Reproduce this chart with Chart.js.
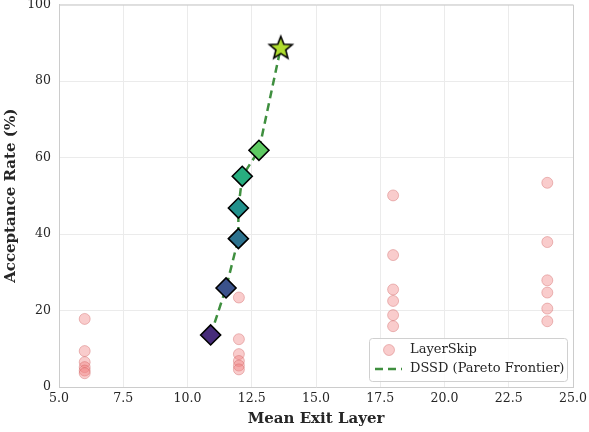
<!DOCTYPE html>
<html>
<head>
<meta charset="utf-8">
<script src="https://cdn.jsdelivr.net/npm/chart.js@4.4.1/dist/chart.umd.min.js"></script>
<style>
html,body{margin:0;padding:0;background:#fff;}
#wrap{width:589px;height:432px;position:relative;overflow:hidden;}
#c{position:absolute;left:0;top:-7px;}
</style>
</head>
<body>
<div id="wrap"><canvas id="c" width="589" height="439"></canvas></div>
<script>
// ---- data ----
const layerSkipX = [6,6,6,6,6,6, 12,12,12,12,12,12, 18,18,18,18,18,18, 24,24,24,24,24,24];
const layerSkipY = [17.8,9.4,6.5,5.2,4.3,3.6, 23.4,12.5,8.6,6.8,5.6,4.6, 50.1,34.5,25.5,22.5,18.8,15.9, 53.4,37.9,27.9,24.7,20.5,17.2];
const dssdX = [10.9,11.5,11.98,11.98,12.13,12.78,13.63];
const dssdY = [13.6,25.9,38.8,46.8,55.1,61.9,88.8];
const dssdColors = ['#472c7a','#3b528b','#2c728e','#21918c','#28ae80','#5ec962','#b0dd2f'];
const xTicks = [5.0,7.5,10.0,12.5,15.0,17.5,20.0,22.5,25.0];
const yTicks = [0,20,40,60,80,100];
const seriesNames = ['LayerSkip','DSSD (Pareto Frontier)'];

const FONT = "'DejaVu Serif', serif";
const OFF = 7; // canvas vertical offset inside the page

// star marker
function makeStar(color){
  const s = 30, c = document.createElement('canvas');
  c.width = s; c.height = s;
  const g = c.getContext('2d');
  const cx = s/2, cy = s/2 + 1, R = 12, r = 5.2;
  g.beginPath();
  for (let i = 0; i < 10; i++){
    const ang = -Math.PI/2 + i*Math.PI/5;
    const rad = i % 2 === 0 ? R : r;
    const px = cx + rad*Math.cos(ang), py = cy + rad*Math.sin(ang);
    if (i === 0) g.moveTo(px, py); else g.lineTo(px, py);
  }
  g.closePath();
  g.fillStyle = color; g.fill();
  g.lineWidth = 1.6; g.strokeStyle = '#000'; g.lineJoin = 'miter'; g.stroke();
  return c;
}
const star = makeStar(dssdColors[dssdColors.length-1]);

const dssdStyles = dssdX.map((_, i) => i === dssdX.length-1 ? star : 'rectRot');

const legendPlugin = {
  id: 'customLegend',
  afterDraw(chart){
    const ctx = chart.ctx;
    const x0 = 369, y0 = 338 + OFF, w = 198, h = 43;
    ctx.save();
    ctx.fillStyle = 'rgba(255,255,255,0.85)';
    ctx.strokeStyle = '#d0d0d0';
    ctx.lineWidth = 1;
    ctx.beginPath();
    ctx.roundRect(x0+0.5, y0+0.5, w, h, 3);
    ctx.fill(); ctx.stroke();
    // circle
    ctx.beginPath();
    ctx.arc(389, 350 + OFF, 5.5, 0, Math.PI*2);
    ctx.fillStyle = 'rgba(240,128,128,0.4)';
    ctx.fill();
    ctx.strokeStyle = 'rgba(200,80,80,0.35)';
    ctx.stroke();
    // dashed line
    ctx.beginPath();
    ctx.setLineDash([8,5]);
    ctx.moveTo(375, 369 + OFF); ctx.lineTo(402, 369 + OFF);
    ctx.strokeStyle = '#3f8f3f'; ctx.lineWidth = 2.5; ctx.stroke();
    ctx.setLineDash([]);
    ctx.fillStyle = '#262626';
    ctx.font = "13px " + FONT;
    ctx.textBaseline = 'middle';
    ctx.fillText(seriesNames[0], 410, 350 + OFF);
    ctx.fillText(seriesNames[1], 410, 369 + OFF);
    ctx.restore();
  }
};

new Chart(document.getElementById('c'), {
  type: 'scatter',
  data: {
    datasets: [
      {
        label: seriesNames[1],
        data: dssdX.map((x, i) => ({x, y: dssdY[i]})),
        showLine: true,
        borderColor: '#3f8f3f',
        borderWidth: 2.5,
        borderDash: [8,5],
        pointStyle: dssdStyles,
        pointRadius: 10,
        pointHoverRadius: 10,
        pointBackgroundColor: dssdColors,
        pointBorderColor: '#000',
        pointBorderWidth: 1.6,
        order: 0
      },
      {
        label: seriesNames[0],
        data: layerSkipX.map((x, i) => ({x, y: layerSkipY[i]})),
        pointStyle: 'circle',
        pointRadius: 5.5,
        pointBackgroundColor: 'rgba(240,128,128,0.4)',
        pointBorderColor: 'rgba(200,80,80,0.35)',
        pointBorderWidth: 1,
        order: 1
      }
    ]
  },
  options: {
    responsive: false,
    animation: false,
    layout: { padding: { top: 4, right: 16, left: 0, bottom: 0 } },
    plugins: { legend: { display: false }, tooltip: { enabled: false } },
    scales: {
      x: {
        type: 'linear', min: 5, max: 25,
        afterBuildTicks(s){ s.ticks = xTicks.map(v => ({value: v})); },
        afterFit(s){ s.height = 45; s.paddingLeft = 0; s.paddingRight = 0; },
        ticks: { callback: v => v.toFixed(1), font: { family: FONT, size: 12.5 }, color: '#262626', padding: 4, maxRotation: 0 },
        grid: { color: '#ebebeb', lineWidth: 1, drawTicks: false },
        border: { color: '#cccccc', width: 1 },
        title: { display: true, text: 'Mean Exit Layer', font: { family: FONT, size: 15, weight: 'bold' }, color: '#262626', padding: { top: 1 } }
      },
      y: {
        type: 'linear', min: 0, max: 100,
        afterBuildTicks(s){ s.ticks = yTicks.map(v => ({value: v})); },
        afterFit(s){ s.width = 59; s.paddingTop = 0; s.paddingBottom = 0; },
        ticks: { font: { family: FONT, size: 12.5 }, color: '#262626', padding: 8 },
        grid: { color: '#ebebeb', lineWidth: 1, drawTicks: false },
        border: { color: '#cccccc', width: 1 },
        title: { display: true, text: 'Acceptance Rate (%)', font: { family: FONT, size: 15, weight: 'bold' }, color: '#262626', padding: { top: 2, bottom: 2 } }
      }
    }
  },
  plugins: [legendPlugin, {
    id: 'frame',
    afterDatasetsDraw(chart){
      const a = chart.chartArea, ctx = chart.ctx;
      ctx.save();
      ctx.strokeStyle = '#cccccc'; ctx.lineWidth = 1;
      ctx.beginPath();
      ctx.moveTo(a.left, a.top+0.5); ctx.lineTo(a.right+0.5, a.top+0.5); ctx.lineTo(a.right+0.5, a.bottom);
      ctx.stroke();
      ctx.restore();
    }
  }]
});
</script>
</body>
</html>
